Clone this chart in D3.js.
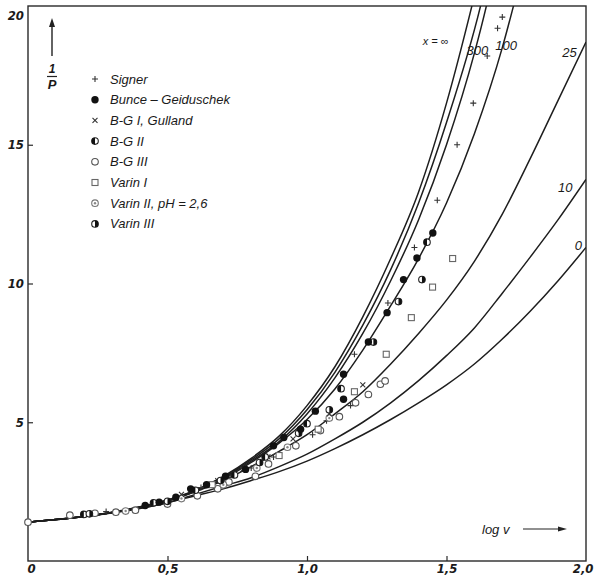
<!DOCTYPE html>
<html lang="de">
<head>
<meta charset="utf-8">
<script src="https://cdn.jsdelivr.net/npm/d3@7"></script>
<style>
  body { margin: 0; background: #fff; }
  text { font-family: "Liberation Sans", "DejaVu Sans", sans-serif; font-style: italic; fill: #1a1a1a; }
</style>
</head>
<body>
<script>
// theoretical curves, [log v, 1/P]
var curveInf = [[0,1.4],[0.2,1.6],[0.35,1.85],[0.5,2.2],[0.6,2.55],[0.7,3.05],[0.8,3.7],[0.9,4.5],[1.0,5.6],[1.1,7.0],[1.2,8.8],[1.3,10.9],[1.4,13.3],[1.5,16.5],[1.59,19.96],[1.62,21.2]];
var curveA   = [[0,1.4],[0.2,1.6],[0.35,1.84],[0.5,2.19],[0.6,2.53],[0.7,3.02],[0.8,3.65],[0.9,4.4],[1.0,5.45],[1.1,6.8],[1.2,8.5],[1.3,10.5],[1.4,12.9],[1.5,15.8],[1.621,19.96],[1.65,21.2]];
var curve300 = [[0,1.4],[0.2,1.6],[0.35,1.84],[0.5,2.18],[0.6,2.52],[0.7,3.0],[0.8,3.6],[0.9,4.3],[1.0,5.3],[1.1,6.6],[1.2,8.2],[1.3,10.1],[1.4,12.3],[1.5,15.0],[1.6,18.3],[1.642,19.96],[1.67,21.2]];
var curve100 = [[0,1.4],[0.2,1.6],[0.35,1.83],[0.5,2.17],[0.6,2.5],[0.7,2.95],[0.8,3.55],[0.9,4.25],[1.0,5.1],[1.1,6.2],[1.2,7.6],[1.3,9.2],[1.4,10.9],[1.5,12.9],[1.6,15.4],[1.7,18.5],[1.739,19.96],[1.77,21.2]];
var curve25  = [[0,1.4],[0.2,1.6],[0.35,1.83],[0.5,2.15],[0.6,2.5],[0.7,2.9],[0.8,3.4],[0.9,3.95],[1.0,4.55],[1.1,5.3],[1.2,6.1],[1.3,7.1],[1.4,8.2],[1.5,9.4],[1.6,10.8],[1.7,12.5],[1.8,14.5],[1.9,16.6],[2.0,18.7]];
var curve10  = [[0,1.4],[0.2,1.6],[0.35,1.82],[0.5,2.1],[0.6,2.4],[0.7,2.7],[0.8,3.0],[0.9,3.4],[1.0,3.85],[1.1,4.4],[1.2,5.0],[1.3,5.7],[1.4,6.5],[1.5,7.4],[1.6,8.4],[1.7,9.65],[1.8,10.95],[1.9,12.3],[2.0,13.75]];
var curve0   = [[0,1.4],[0.2,1.6],[0.35,1.8],[0.5,2.1],[0.6,2.35],[0.7,2.6],[0.8,2.9],[0.9,3.22],[1.0,3.6],[1.1,4.05],[1.2,4.55],[1.3,5.1],[1.4,5.7],[1.5,6.35],[1.6,7.1],[1.7,8.0],[1.8,9.0],[1.9,10.1],[2.0,11.3]];

// measured points
var signer = [[0.28,1.78],[0.62,2.65],[0.72,3.0],[0.80,3.35],[0.88,3.75],[0.96,4.2],[1.02,4.55],[1.07,5.05],[1.156,5.6],[1.17,7.45],[1.29,9.3],[1.385,11.3],[1.467,13.0],[1.538,15.0],[1.596,16.5],[1.646,18.2],[1.683,19.2],[1.70,19.6]];
var bunce = [[0.42,2.0],[0.47,2.12],[0.53,2.3],[0.583,2.6],[0.64,2.75],[0.708,3.06],[0.78,3.3],[0.88,4.15],[0.917,4.45],[0.977,4.75],[1.03,5.4],[1.131,5.83],[1.131,6.73],[1.22,7.89],[1.287,8.95],[1.346,10.14],[1.394,10.92],[1.451,11.82]];
var bg1 = [[0.55,2.4],[0.68,2.9],[0.77,3.3],[0.86,3.75],[0.95,4.4],[1.08,5.3],[1.2,6.35]];
var bg2 = [[0.2,1.68],[0.45,2.1],[0.6,2.55],[0.74,3.1],[0.85,3.75],[1.0,4.95],[1.122,6.21],[1.43,11.49]];
var bg3 = [[0,1.4],[0.15,1.65],[0.24,1.72],[0.315,1.76],[0.385,1.83],[0.5,2.05],[0.607,2.35],[0.68,2.6],[0.72,2.85],[0.815,3.05],[0.862,3.5],[0.96,4.15],[1.048,4.7],[1.116,5.2],[1.174,5.7],[1.22,6.0],[1.263,6.37],[1.28,6.49]];
var varin1 = [[0.66,2.75],[0.9,3.8],[1.04,4.75],[1.17,6.1],[1.284,7.45],[1.374,8.77],[1.45,9.87],[1.522,10.9]];
var varin2 = [[0.35,1.8],[0.55,2.25],[0.7,2.75],[0.82,3.35],[0.93,4.1],[1.08,5.15]];
var varin3 = [[0.22,1.7],[0.5,2.15],[0.69,2.9],[0.83,3.55],[0.97,4.6],[1.08,5.45],[1.238,7.89],[1.328,9.35],[1.412,10.14]];

var xTicks = [0, 0.5, 1.0, 1.5, 2.0];
var yTicks = [5, 10, 15, 20];
var legendNames = ["Signer", "Bunce \u2013 Geiduschek", "B-G I, Gulland", "B-G II", "B-G III", "Varin I", "Varin II, pH = 2,6", "Varin III"];
var legendKinds = ["plus", "dot", "cross", "halfL", "open", "square", "ring", "halfR"];

var w = 594, h = 583;
var svg = d3.select("body").append("svg").attr("width", w).attr("height", h);

var x = d3.scaleLinear().domain([0, 2]).range([28, 586]);
var y = d3.scaleLinear().domain([0, 20]).range([561, 6]);

// frame
svg.append("rect")
  .attr("x", x(0)).attr("y", y(20))
  .attr("width", x(2) - x(0)).attr("height", y(0) - y(20))
  .attr("fill", "none").attr("stroke", "#2a2a2a").attr("stroke-width", 1.4);

// axes
var fmt = function(d) { return d === 0 ? "0" : d.toFixed(1).replace(".", ","); };
var xAxis = svg.append("g")
  .attr("transform", "translate(0," + y(0) + ")")
  .call(d3.axisBottom(x).tickValues(xTicks).tickSizeInner(-5).tickSizeOuter(0).tickPadding(3).tickFormat(fmt));
var yAxis = svg.append("g")
  .attr("transform", "translate(" + x(0) + ",0)")
  .call(d3.axisLeft(y).tickValues(yTicks).tickSizeInner(-5).tickSizeOuter(0).tickPadding(4));
[xAxis, yAxis].forEach(function(a) {
  a.select(".domain").remove();
  a.selectAll("line").attr("stroke", "#2a2a2a").attr("stroke-width", 1.2);
  a.selectAll("text").style("font-size", "13px").style("font-weight", "bold").attr("fill", "#1a1a1a")
    .style("font-family", "'Liberation Sans Narrow', 'DejaVu Sans Condensed', sans-serif");
});
xAxis.selectAll(".tick").filter(function(d) { return d === 0 || d === 2; }).select("line").remove();
xAxis.selectAll(".tick").filter(function(d) { return d === 2; }).select("text").attr("text-anchor", "end").attr("x", 7);
yAxis.selectAll(".tick").filter(function(d) { return d === 20; }).select("line").remove();
yAxis.selectAll(".tick").filter(function(d) { return d === 20; }).select("text").attr("dy", "1.0em");
xAxis.selectAll(".tick").filter(function(d) { return d === 0; }).select("text").attr("dx", "3");

// curves
svg.append("clipPath").attr("id", "plot").append("rect")
  .attr("x", x(0)).attr("y", y(20)).attr("width", x(2) - x(0)).attr("height", y(0) - y(20));
var line = d3.line().x(function(d) { return x(d[0]); }).y(function(d) { return y(d[1]); }).curve(d3.curveMonotoneX);
var curves = svg.append("g").attr("clip-path", "url(#plot)");
[curveInf, curveA, curve300, curve100, curve25, curve10, curve0].forEach(function(c) {
  curves.append("path").attr("d", line(c))
    .attr("fill", "none").attr("stroke", "#1e1e1e").attr("stroke-width", 1.5);
});

// curve labels
var curveLabels = [["x = \u221e", 1.415, 18.6], ["300", 1.572, 18.25], ["100", 1.675, 18.4], ["25", 1.915, 18.15], ["10", 1.9, 13.3], ["0", 1.96, 11.2]];
curveLabels.forEach(function(l) {
  svg.append("text").attr("x", x(l[1])).attr("y", y(l[2]))
    .style("font-size", l[0].length > 3 ? "11px" : "13px").text(l[0]);
});

// markers
function marker(g, kind, cx, cy) {
  var r = 3.3;
  if (kind === "plus") {
    g.append("path").attr("d", "M" + (cx - 3) + "," + cy + "H" + (cx + 3) + "M" + cx + "," + (cy - 3) + "V" + (cy + 3))
      .attr("stroke", "#333").attr("stroke-width", 1.1);
  } else if (kind === "cross") {
    g.append("path").attr("d", "M" + (cx - 2.5) + "," + (cy - 2.5) + "L" + (cx + 2.5) + "," + (cy + 2.5) + "M" + (cx - 2.5) + "," + (cy + 2.5) + "L" + (cx + 2.5) + "," + (cy - 2.5))
      .attr("stroke", "#333").attr("stroke-width", 1.1);
  } else if (kind === "dot") {
    g.append("circle").attr("cx", cx).attr("cy", cy).attr("r", r + 0.4).attr("fill", "#111");
  } else if (kind === "open") {
    g.append("circle").attr("cx", cx).attr("cy", cy).attr("r", r).attr("fill", "#fff").attr("stroke", "#555").attr("stroke-width", 1.1);
  } else if (kind === "ring") {
    g.append("circle").attr("cx", cx).attr("cy", cy).attr("r", r).attr("fill", "#fff").attr("stroke", "#777").attr("stroke-width", 1.1);
    g.append("circle").attr("cx", cx).attr("cy", cy).attr("r", 1.2).attr("fill", "#888");
  } else if (kind === "square") {
    g.append("rect").attr("x", cx - 3).attr("y", cy - 3).attr("width", 6).attr("height", 6)
      .attr("fill", "#fff").attr("stroke", "#666").attr("stroke-width", 1.1);
  } else {
    var s = kind === "halfL" ? 0 : 1;
    g.append("circle").attr("cx", cx).attr("cy", cy).attr("r", r).attr("fill", "#fff").attr("stroke", "#222").attr("stroke-width", 1.1);
    g.append("path").attr("d", "M" + cx + "," + (cy - r) + "A" + r + "," + r + " 0 0 " + (s ? 1 : 0) + " " + cx + "," + (cy + r) + "Z").attr("fill", "#111");
  }
}

var series = [[signer, "plus"], [bg3, "open"], [varin1, "square"], [varin2, "ring"], [bg1, "cross"], [bg2, "halfL"], [varin3, "halfR"], [bunce, "dot"]];
var pts = svg.append("g");
series.forEach(function(s) {
  s[0].forEach(function(d) { marker(pts, s[1], x(d[0]), y(d[1])); });
});

// legend
var legend = svg.append("g");
legendNames.forEach(function(name, i) {
  var ly = 79 + i * 20.7;
  marker(legend, legendKinds[i], 95, ly);
  legend.append("text").attr("x", 110).attr("y", ly + 4.5).style("font-size", "13px").text(name);
});

// axis titles with arrows
svg.append("path").attr("d", "M52,56V22").attr("stroke", "#222").attr("stroke-width", 1.4);
svg.append("path").attr("d", "M49,27L52,18L55,27Z").attr("fill", "#222");
svg.append("text").attr("x", 52).attr("y", 73).attr("text-anchor", "middle").style("font-size", "12px").style("font-weight", "bold").text("1");
svg.append("path").attr("d", "M47,76.5H57").attr("stroke", "#222").attr("stroke-width", 1.2);
svg.append("text").attr("x", 52).attr("y", 89).attr("text-anchor", "middle").style("font-size", "13px").style("font-weight", "bold").text("P");

svg.append("text").attr("x", 482).attr("y", 534).style("font-size", "13px").text("log v");
svg.append("path").attr("d", "M523,529H560").attr("stroke", "#222").attr("stroke-width", 1.2);
svg.append("path").attr("d", "M558,526.5L567,529L558,531.5Z").attr("fill", "#222");
</script>
</body>
</html>
